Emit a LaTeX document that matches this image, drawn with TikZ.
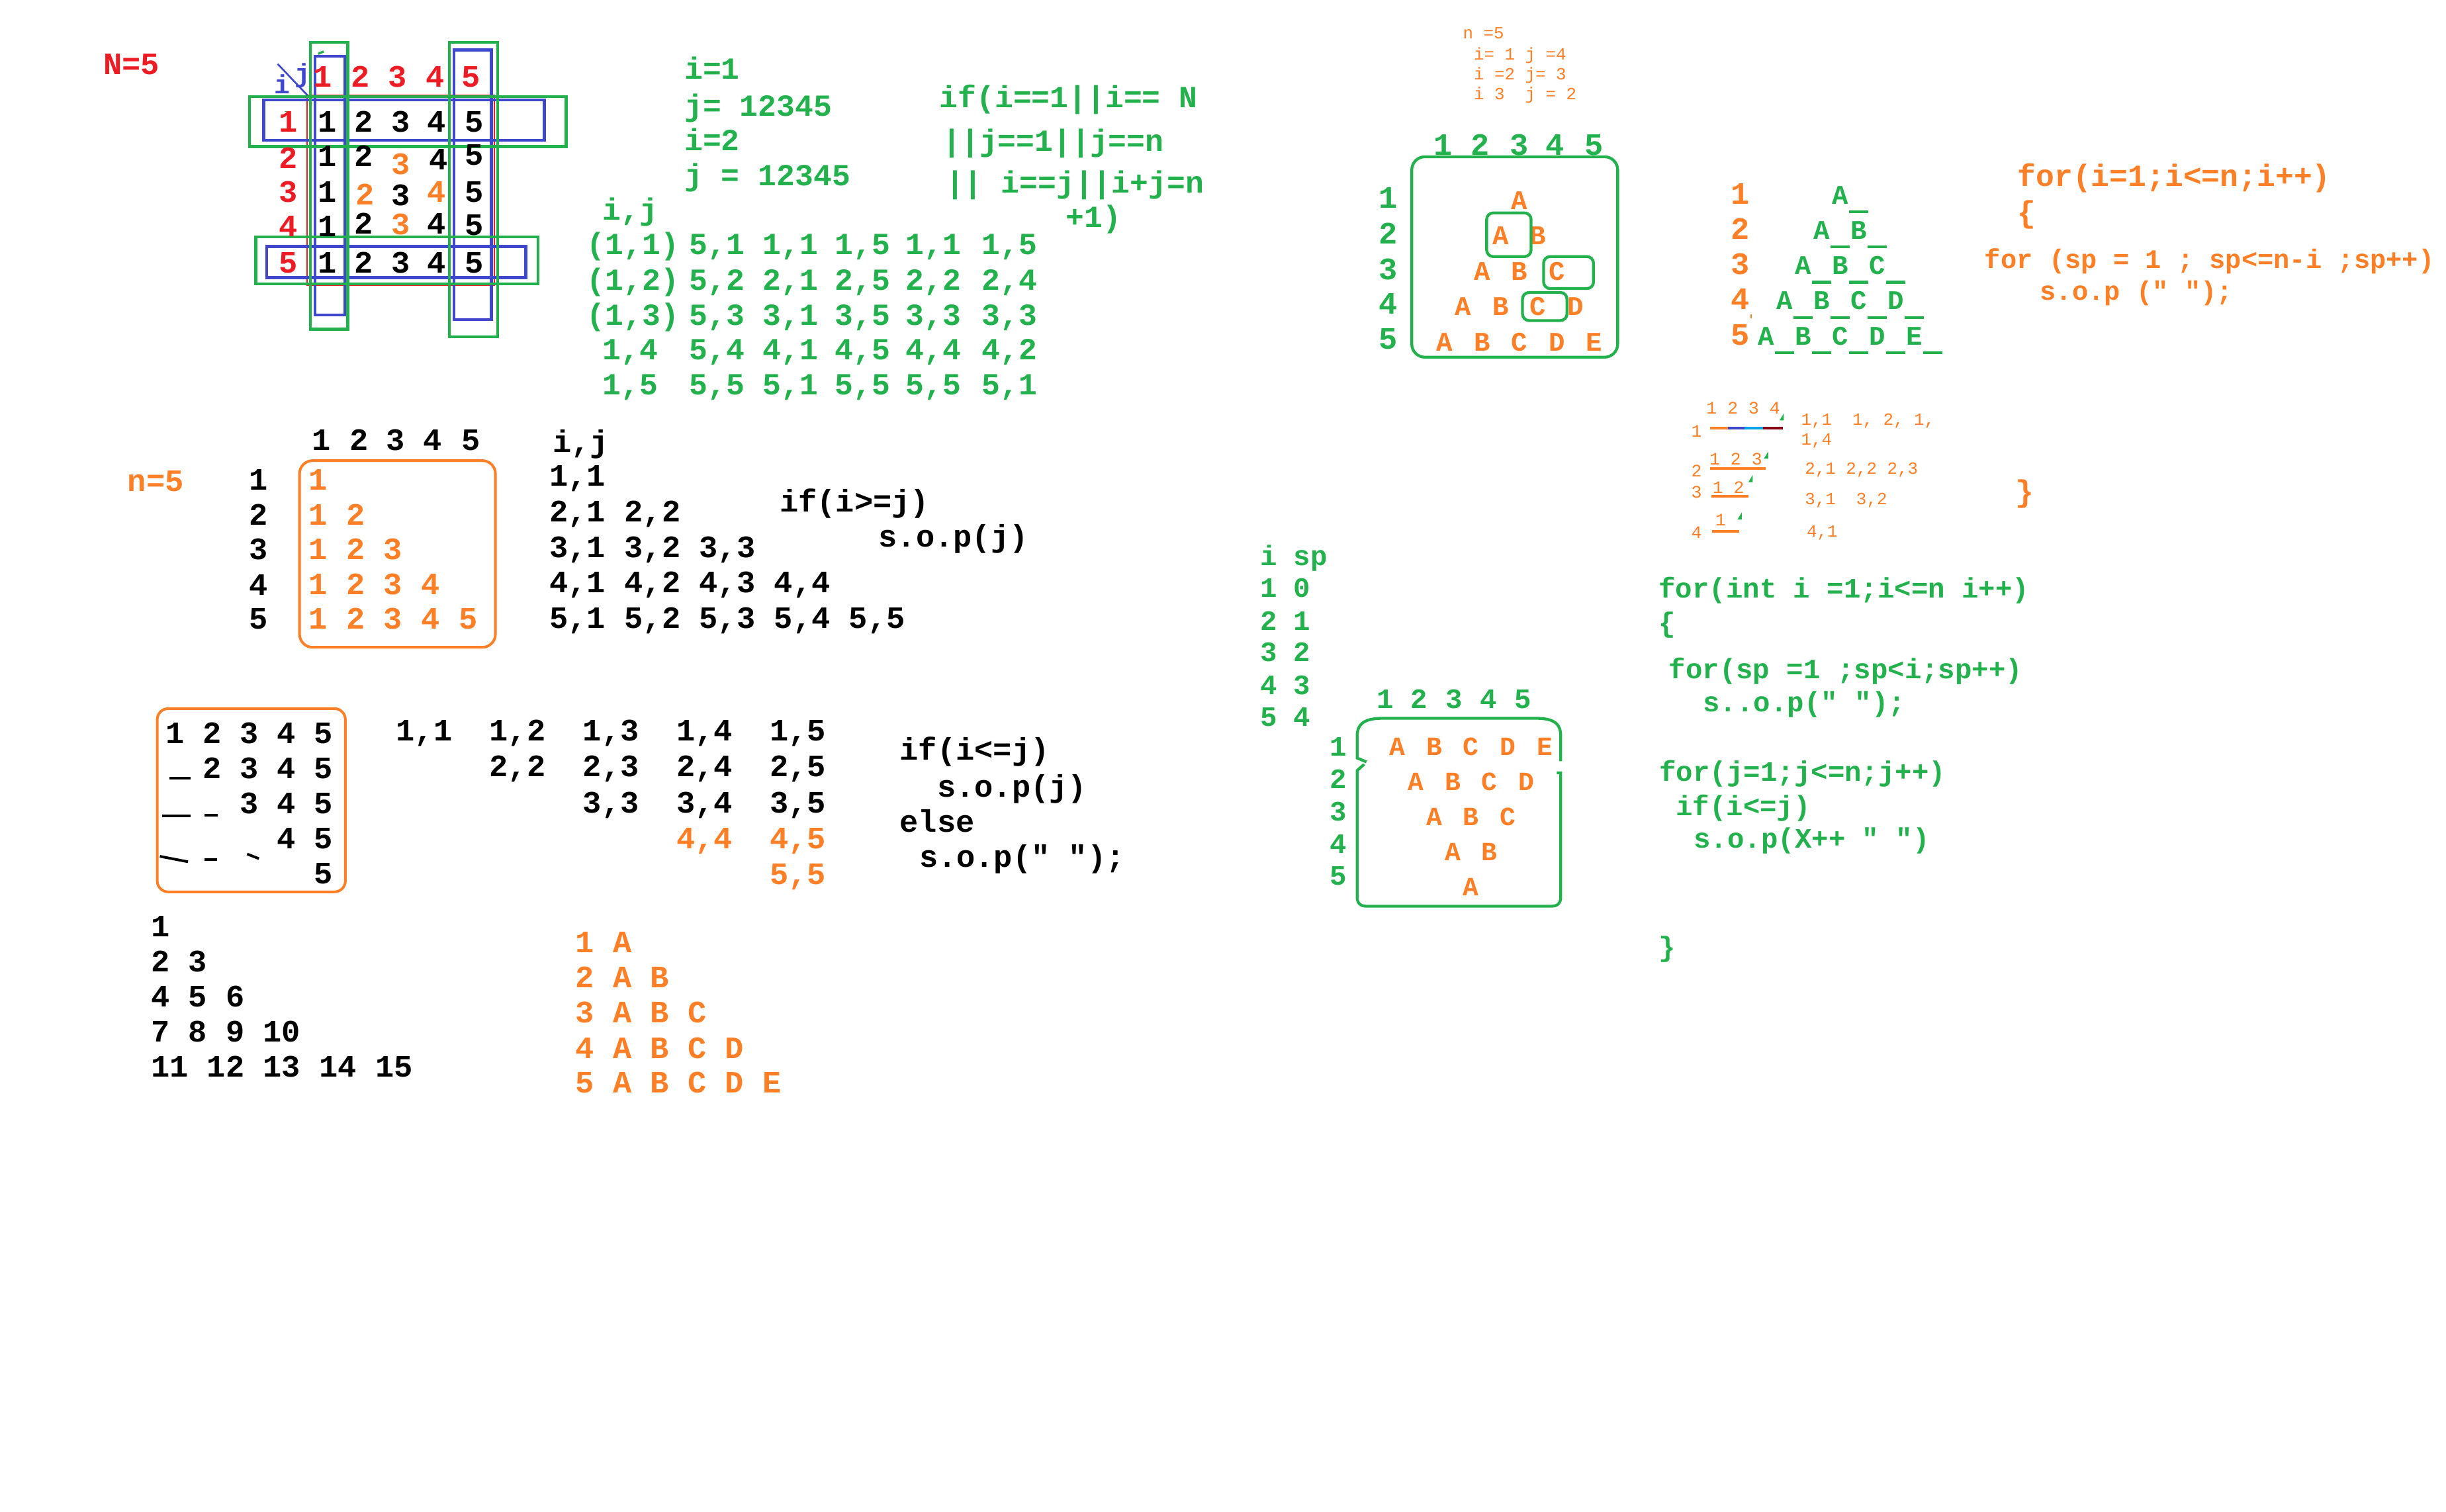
\documentclass[tikz,border=0pt]{standalone}
\usepackage{fontspec}
\usepackage{tikz}
\setmonofont{Liberation Mono}
\definecolor{pred}{RGB}{237,28,36}
\definecolor{pgreen}{RGB}{34,177,76}
\definecolor{porange}{RGB}{255,127,39}
\definecolor{pblue}{RGB}{63,72,204}
\definecolor{pcyan}{RGB}{0,162,232}
\definecolor{pdark}{RGB}{136,0,21}
\tikzset{bt/.style = {inner sep=0pt, text depth=0pt, text height={0.58*#1pt},
    font=\ttfamily\bfseries\fontsize{#1pt}{#1pt}\selectfont}}
\tikzset{lt/.style = {inner sep=0pt, text depth=0pt, text height={0.58*#1pt},
    font=\ttfamily\fontsize{#1pt}{#1pt}\selectfont}}
\tikzset{frame/.style = {line width=1.3pt}}
\tikzset{stroke/.style = {line width=1.2pt}}

\begin{document}
\begin{tikzpicture}[x=0.025cm, y=-0.025cm]
\useasboundingbox (0,0) rectangle (1568,969);
\fill[white] (0,0) rectangle (1568,969);

% N=5 matrix
\node[bt=14.2, pred, anchor=west] (N) at (66,42) {N=5};
\draw[pred, line width=0.6pt] (197,61) rectangle (317,183);
\draw[pblue, frame] (202,36) rectangle (221,202);
\draw[pblue, frame] (291,32) rectangle (315,205);
\draw[pblue, frame] (169,64) rectangle (349,90);
\draw[pblue, frame] (171,158) rectangle (337,178);
\draw[pgreen, frame] (199,27) rectangle (223,211);
\draw[pgreen, frame] (288,27) rectangle (319,216);
\draw[pgreen, frame] (160,62) rectangle (363,94);
\draw[pgreen, frame] (164,152) rectangle (345,182);
\draw[pgreen, line width=1pt] (204,34.5) -- (207.5,33);
\draw[pgreen, line width=0.4pt] (182.5,71.5) -- (186,71.5);
\draw[pblue, line width=0.8pt] (178,41) -- (197,61);
\node[bt=12, pblue] (mi) at (181,55) {i};
\node[bt=12, pblue] (mj) at (194,48) {j};
\foreach \x [count=\k] in {207,231,255,279,302}
  \node[bt=14.2, pred] (h\k) at (\x,50) {\k};
\foreach \y [count=\k] in {79,102,124,146,169}
  \node[bt=14.2, pred] (r\k) at (185,\y) {\k};
\foreach \x [count=\k] in {210,233,257,280,304} {
  \node[bt=14.2] (a1\k) at (\x,79) {\k};
  \node[bt=14.2] (a5\k) at (\x,169) {\k};
}
\foreach \r/\k/\x/\y/\c in {2/1/210/101/black, 2/2/233/101/black, 2/3/257/106/porange,
    2/4/281/103/black, 2/5/304/100/black, 3/1/210/124/black, 3/2/234/125.5/porange,
    3/3/257/126/black, 3/4/280/124/porange, 3/5/304/124/black, 4/1/210/146/black,
    4/2/233/144/black, 4/3/257/144.5/porange, 4/4/280/144/black, 4/5/304/145/black}
  \node[bt=14.2, text=\c] (a\r\k) at (\x,\y) {\k};

% green notes
\node[bt=14, pgreen, anchor=west] (i1) at (438.5,45) {i=1};
\node[bt=14, pgreen, anchor=west] (j1) at (438.5,68.6) {j= 12345};
\node[bt=14, pgreen, anchor=west] (i2) at (438.5,90.6) {i=2};
\node[bt=14, pgreen, anchor=west] (j2) at (438.5,113.3) {j = 12345};
\node[bt=14, pgreen, anchor=west] (gij) at (386,135.3) {i,j};
\foreach \r/\y/\p/\a/\b/\c/\d/\e in {1/157.5/{(1,1)}/{5,1}/{1,1}/{1,5}/{1,1}/{1,5},
    2/180.2/{(1,2)}/{5,2}/{2,1}/{2,5}/{2,2}/{2,4},
    3/202.9/{(1,3)}/{5,3}/{3,1}/{3,5}/{3,3}/{3,3}} {
  \node[bt=14, pgreen, anchor=west] (g\r0) at (376,\y) {\p};
  \foreach \t/\x [count=\k] in {\a/441.5,\b/488.8,\c/535,\d/580.5,\e/629.2}
    \node[bt=14, pgreen, anchor=west] (g\r\k) at (\x,\y) {\t};
}
\foreach \r/\y/\p/\a/\b/\c/\d/\e in {4/224.7/{1,4}/{5,4}/{4,1}/{4,5}/{4,4}/{4,2},
    5/247.2/{1,5}/{5,5}/{5,1}/{5,5}/{5,5}/{5,1}} {
  \node[bt=14, pgreen, anchor=west] (g\r0) at (386,\y) {\p};
  \foreach \t/\x [count=\k] in {\a/441.5,\b/488.8,\c/535,\d/580.5,\e/629.2}
    \node[bt=14, pgreen, anchor=west] (g\r\k) at (\x,\y) {\t};
}
\node[bt=14, pgreen, anchor=west] (if1) at (602,63.3) {if(i==1||i== N};
\node[bt=14, pgreen, anchor=west] (if2) at (604,91.4) {||j==1||j==n};
\node[bt=14, pgreen, anchor=west] (if3) at (606,118) {|| i==j||i+j=n};
\node[bt=14, pgreen, anchor=west] (if4) at (683,140) {+1)};

% n=5 small notes
\node[lt=7.8, porange, anchor=west] (sn) at (937.5,21.5) {n =5};
\node[lt=7.8, porange, anchor=west] (s1) at (944.5,35) {i= 1 j =4};
\node[lt=7.8, porange, anchor=west] (s2) at (944.5,47.8) {i =2 j= 3};
\node[lt=7.8, porange, anchor=west] (s3) at (944.5,60.8) {i 3\ \ j = 2};

% A / A B triangle in box
\foreach \x [count=\k] in {925,949,974,997,1022}
  \node[bt=14.2, pgreen] (dh\k) at (\x,93.5) {\k};
\foreach \y [count=\k] in {127.5,150.4,173.3,195.5,218}
  \node[bt=14.2, pgreen] (dr\k) at (890,\y) {\k};
\draw[pgreen, frame, rounded corners=6pt] (905,100.5) rectangle (1037,229);
\foreach \r in {1,...,5}
  \foreach \l [count=\k] in {A,B,C,D,E} {
    \ifnum\k>\r\else
      \node[bt=12.3, porange] (d\r\k) at ({974+12*(2*\k-\r-1)},{129.2+22.7*(\r-1)}) {\l};
    \fi
  }
\draw[pgreen, frame, rounded corners=3pt] (953,136.5) rectangle (981.5,164.5);
\draw[pgreen, frame, rounded corners=3pt] (989.5,164.5) rectangle (1021.5,185);
\draw[pgreen, frame, rounded corners=3pt] (976,187.5) rectangle (1004.5,205.5);

% A_ B_ triangle
\foreach \y [count=\k] in {124.9,147.5,170,192.7,215.3}
  \node[bt=14.2, porange] (er\k) at (1115.5,\y) {\k};
\foreach \r in {1,...,5}
  \foreach \l [count=\k] in {A,B,C,D,E} {
    \ifnum\k>\r\else
      \node[bt=12.3, pgreen] (e\r\k) at ({1179.7+11.9*(2*\k-\r-1)},{125.7+22.6*(\r-1)}) {\l};
      \draw[pgreen, frame] ([xshift=5.5*0.025cm, yshift=-10*0.025cm]e\r\k.center)
        -- ([xshift=18*0.025cm, yshift=-10*0.025cm]e\r\k.center);
    \fi
  }
\draw[porange, line width=0.4pt] (1122.5,201.5) -- (1122.5,204);

% orange code
\node[bt=14, porange, anchor=west] (f1) at (1293,113.8) {for(i=1;i<=n;i++)};
\node[bt=14, porange, anchor=west] (f2) at (1293,137) {\{};
\node[bt=12.2, porange, anchor=west] (f3) at (1272,167) {for (sp = 1 ; sp<=n-i ;sp++)};
\node[bt=12.2, porange, anchor=west] (f4) at (1307.5,187.5) {s.o.p (" ");};

% small 1 2 3 4 table
\node[lt=8, porange, anchor=west] (t1) at (1093.6,262.3) {1 2 3 4};
\node[lt=8, porange] (tl1) at (1087.6,277) {1};
\draw[porange, frame] (1096.2,274.4) -- (1107.5,274.4);
\draw[pblue, frame] (1107.5,274.4) -- (1118.4,274.4);
\draw[pcyan, frame] (1118.4,274.4) -- (1130,274.4);
\draw[pdark, frame] (1130,274.4) -- (1143,274.4);
\node[lt=7.8, porange, anchor=west] (tp1) at (1154.3,269.4) {1,1\ \ 1, 2, 1,};
\node[lt=7.8, porange, anchor=west] (tp1b) at (1154.3,282) {1,4};
\node[lt=8, porange, anchor=west] (t2) at (1095.6,294.9) {1 2 3};
\node[lt=8, porange] (tl2) at (1087.6,302.6) {2};
\draw[porange, stroke] (1096.2,300.3) -- (1132,300.3);
\node[lt=7.8, porange, anchor=west] (tp2) at (1156.8,300.9) {2,1 2,2 2,3};
\node[lt=8, porange, anchor=west] (t3) at (1097.6,313) {1 2};
\node[lt=8, porange] (tl3) at (1087.6,316) {3};
\draw[porange, stroke] (1097,318.2) -- (1121,318.2);
\node[lt=7.8, porange, anchor=west] (tp3) at (1156.8,320.3) {3,1\ \ 3,2};
\node[lt=8, porange] (t4) at (1103,333.7) {1};
\node[lt=8, porange] (tl4) at (1087.6,342) {4};
\draw[porange, stroke] (1097.6,340.6) -- (1115,340.6);
\node[lt=7.8, porange, anchor=west] (tp4) at (1157.9,341.1) {4,1};
\foreach \x/\y in {1142/268,1132/292.5,1122/307.6,1115/331.6}
  \fill[pgreen] (\x-1.2,\y+1.5) -- (\x+1.5,\y-3) -- (\x+1.5,\y+1.5) -- cycle;
\node[bt=14, porange] (tb) at (1298,316) {\}};

% n=5 lower triangle
\node[bt=14.2, porange, anchor=west] (n5) at (81.5,309) {n=5};
\foreach \x [count=\k] in {206,230,253.6,277.5,302}
  \node[bt=14.2] (hh\k) at (\x,282.8) {\k};
\foreach \y [count=\k] in {308.3,330.8,353,375.6,397.6}
  \node[bt=14.2] (hr\k) at (165.7,\y) {\k};
\draw[porange, stroke, rounded corners=6pt] (192,295.3) rectangle (317.6,415);
\foreach \r in {1,...,5}
  \foreach \k in {1,...,\r}
    \node[bt=14.2, porange] (ho\r\k) at ({204+24*(\k-1)},{308.3+22.33*(\r-1)}) {\k};
\node[bt=14.2, anchor=west] (hij) at (354,284) {i,j};
\foreach \r in {1,...,5}
  \foreach \k in {1,...,\r}
    \node[bt=14.2, anchor=west] (hp\r\k) at ({352+48*(\k-1)},{306+22.75*(\r-1)}) {\r,\k};
\node[bt=14.2, anchor=west] (hif) at (499.5,322.4) {if(i>=j)};
\node[bt=14.2, anchor=west] (hso) at (563,345) {s.o.p(j)};

% upper triangle with spaces
\draw[porange, stroke, rounded corners=5pt] (100.8,454.3) rectangle (221.4,571.8);
\foreach \r in {1,...,5}
  \foreach \k in {\r,...,5}
    \node[bt=14.2] (u\r\k) at ({112.2+23.8*(\k-1)},{471+22.4*(\r-1)}) {\k};
\draw[stroke] (108.5,499) -- (122,499);
\draw[stroke] (104,523) -- (122,523);
\draw[stroke] (131,522.6) -- (139.5,522.6);
\draw[stroke] (102.5,549) -- (120.5,552.5);
\draw[stroke] (131,551) -- (139,551);
\draw[stroke] (158.4,547.5) -- (166,550.5);
\foreach \r in {1,...,5}
  \foreach \k in {\r,...,5} {
    \ifnum\r>3 \def\pc{porange}\else\def\pc{black}\fi
    \node[bt=14.2, text=\pc] (up\r\k) at ({271.9+59.9*(\k-1)},{469+23.1*(\r-1)}) {\r,\k};
  }
\node[bt=14.2, anchor=west] (uif) at (576.5,481.5) {if(i<=j)};
\node[bt=14.2, anchor=west] (uso) at (600.5,505) {s.o.p(j)};
\node[bt=14.2, anchor=west] (uel) at (576.5,527.5) {else};
\node[bt=14.2, anchor=west] (usp) at (589,550) {s.o.p(" ");};

% Floyd triangle
\foreach \t/\y [count=\k] in {1/594.7, 2 3/617.3, 4 5 6/639.7, 7 8 9 10/662, 11 12 13 14 15/684.7}
  \node[bt=14.2, anchor=west] (fl\k) at (96.5,\y) {\t};

% 1 A ... 5 A B C D E
\foreach \t/\y [count=\k] in {1 A/605, 2 A B/627.5, 3 A B C/650, 4 A B C D/672.7, 5 A B C D E/695}
  \node[bt=14.2, porange, anchor=west] (ab\k) at (368.8,\y) {\t};

% i sp table
\foreach \t/\y [count=\k] in {i sp/357.3, 1 0/377.6, 2 1/398.7, 3 2/419, 4 3/440, 5 4/460.2}
  \node[bt=12.8, pgreen, anchor=west] (sp\k) at (807.5,\y) {\t};

% inverted triangle
\foreach \x [count=\k] in {888,909.8,932,954.3,976.3}
  \node[bt=12.8, pgreen] (kh\k) at (\x,449) {\k};
\foreach \y [count=\k] in {479.3,500.4,521.2,541.8,562.4}
  \node[bt=12.8, pgreen] (kr\k) at (858,\y) {\k};
\draw[pgreen, frame] (876,488.5) -- (870,486) -- (870,472)
  .. controls (870,463) and (876,460.5) .. (887,460.5) -- (984,460.5)
  .. controls (995,460.5) and (1000.5,463) .. (1000.5,472) -- (1000.5,488);
\draw[pgreen, frame] (874.5,490) -- (870,494) -- (870,575)
  .. controls (870,579) and (872,581) .. (876,581) -- (994.5,581)
  .. controls (998.5,581) and (1000.5,579) .. (1000.5,575) -- (1000.5,495.5) -- (998,495.5);
\foreach \r in {1,...,5}
  \foreach \l [count=\k] in {A,B,C,D,E} {
    \pgfmathtruncatemacro{\m}{6-\r}
    \ifnum\k>\m\else
      \node[bt=12, porange] (k\r\k) at ({943+11.8*(2*\k-\m-1)},{479.5+22.4*(\r-1)}) {\l};
    \fi
  }

% green code
\node[bt=12.8, pgreen, anchor=west] (c1) at (1063,378.2) {for(int i =1;i<=n i++)};
\node[bt=12.8, pgreen, anchor=west] (c2) at (1063,400.3) {\{};
\node[bt=12.8, pgreen, anchor=west] (c3) at (1069.5,429.8) {for(sp =1 ;sp<i;sp++)};
\node[bt=12.8, pgreen, anchor=west] (c4) at (1091.5,451) {s..o.p(" ");};
\node[bt=12.8, pgreen, anchor=west] (c5) at (1063.5,495.6) {for(j=1;j<=n;j++)};
\node[bt=12.8, pgreen, anchor=west] (c6) at (1074,517.6) {if(i<=j)};
\node[bt=12.8, pgreen, anchor=west] (c7) at (1085.5,538.6) {s.o.p(X++ " ")};
\node[bt=12.8, pgreen, anchor=west] (c8) at (1063,608) {\}};
\end{tikzpicture}
\end{document}
